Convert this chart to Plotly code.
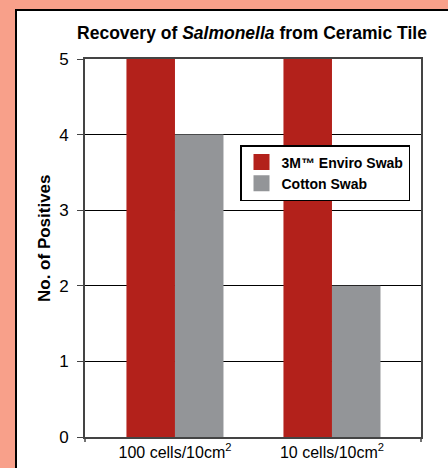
import plotly.graph_objects as go

categories = ["100 cells/10cm<sup>2</sup>", "10 cells/10cm<sup>2</sup>"]
series_names = ["3M™ Enviro Swab", "Cotton Swab"]
enviro_values = [5, 5]
cotton_values = [4, 2]
y_ticks = [0, 1, 2, 3, 4, 5]

RED = "#B3211B"
GRAY = "#939598"
SALMON = "#F8A08A"
FONT = "Liberation Sans Narrow, Liberation Sans, Arial, sans-serif"

fig = go.Figure()
fig.add_trace(go.Bar(x=[0, 1], y=enviro_values, name=series_names[0], showlegend=False,
                     marker=dict(color=RED, line=dict(width=0))))
fig.add_trace(go.Bar(x=[0, 1], y=cotton_values, name=series_names[1], showlegend=False,
                     marker=dict(color=GRAY, line=dict(width=0))))
# legend entries with larger square swatches
for name, col in zip(series_names, [RED, GRAY]):
    fig.add_trace(go.Scatter(x=[None], y=[None], mode="markers", name="<b>" + name + "</b>",
                             marker=dict(symbol="square", size=17, color=col)))

L, R, T, B = 85, 27, 59, 31
W, H = 448, 468
pw, ph = W - L - R, H - T - B

fig.add_shape(type="rect", xref="paper", yref="paper",
              x0=(16 - L) / pw, x1=1.2, y0=-0.2, y1=1 + (T - 10) / ph,
              fillcolor="white", line=dict(color="black", width=2), layer="below")
# small end ticks below the x axis
for xp in (0, 1):
    fig.add_shape(type="line", xref="paper", yref="paper", x0=xp, x1=xp,
                  y0=0, y1=-5 / ph, line=dict(color="#444", width=1.5))

fig.add_annotation(text="<b>No. of Positives</b>", textangle=-90,
                   xref="paper", yref="paper", x=(45 - L) / pw, y=1 - (238 - T) / ph,
                   xanchor="center", yanchor="middle", showarrow=False,
                   font=dict(size=17, family=FONT, color="black"))

fig.update_layout(
    width=W, height=H,
    margin=dict(l=L, r=R, t=T, b=B, autoexpand=False),
    paper_bgcolor=SALMON,
    plot_bgcolor="rgba(0,0,0,0)",
    barmode="group",
    bargap=0.382, bargroupgap=0,
    font=dict(family=FONT, color="black"),
    title=dict(text="<b>Recovery of <i>Salmonella</i> from Ceramic Tile</b>",
               x=252 / W, xanchor="center", y=1 - 33 / H, yanchor="middle",
               font=dict(size=17.5, family=FONT, color="black")),
    xaxis=dict(
        tickmode="array", tickvals=[0, 1], ticktext=categories,
        range=[-0.573, 1.567], showgrid=False, automargin=False,
        showline=True, linecolor="#444", linewidth=2, mirror=True,
        ticks="", tickfont=dict(size=16, family=FONT, color="black"),
    ),
    yaxis=dict(
        range=[0, 5], tickvals=y_ticks, showgrid=True, gridcolor="black", gridwidth=1,
        showline=True, linecolor="#444", linewidth=2, mirror=True, automargin=False,
        ticks="outside", ticklen=6, tickcolor="#444", tickwidth=1, ticklabelstandoff=5,
        tickfont=dict(size=17, family=FONT, color="black"),
        zeroline=False,
    ),
    legend=dict(
        x=(240 - L) / pw, y=1 - (145 - T) / ph, xanchor="left", yanchor="top",
        bgcolor="white", bordercolor="black", borderwidth=1.5,
        font=dict(size=14, family=FONT, color="black"),
        traceorder="normal", tracegroupgap=0, itemwidth=30, itemsizing="trace",
    ),
)

fig.write_html("out.html", config={"displayModeBar": False},
               post_script="document.body.style.margin='0';document.body.style.background='" + SALMON + "';")
